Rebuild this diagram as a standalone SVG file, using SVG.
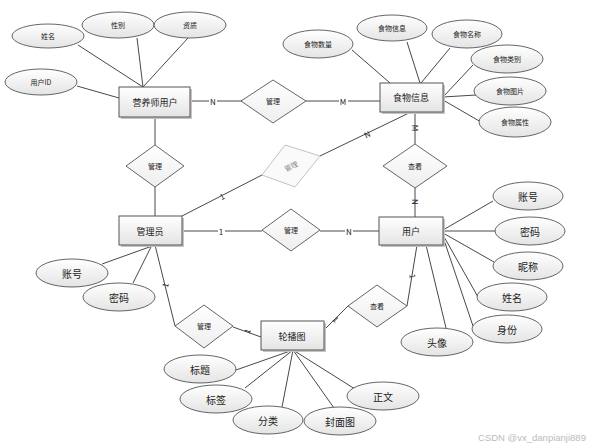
<svg xmlns="http://www.w3.org/2000/svg" width="600" height="446" viewBox="0 0 600 446">
<defs>
<linearGradient id="g" x1="0" y1="0" x2="0" y2="1"><stop offset="0" stop-color="#ffffff"/><stop offset="1" stop-color="#e4e4e4"/></linearGradient>
<linearGradient id="gg" x1="0" y1="0" x2="0" y2="1"><stop offset="0" stop-color="#ffffff"/><stop offset="1" stop-color="#eeeeee"/></linearGradient>
</defs>
<style>
text{font-family:"Noto Sans CJK SC","Liberation Sans",sans-serif;text-anchor:middle;dominant-baseline:central;fill:#222}
.e{fill:url(#g);stroke:#555;stroke-width:0.9}
.r{fill:url(#g);stroke:#555;stroke-width:1}
.sh{fill:#c4c4c4}
.d{fill:url(#gg);stroke:#555;stroke-width:0.9}
.s{font-size:7px}
.m{font-size:9px}
.b{font-size:10px}
.l{font-size:8px}
.c line,.c polyline{stroke:#333;stroke-width:0.9;fill:none}
</style>
<rect width="600" height="446" fill="#fff"/>
<g class="c" id="connectors">
<line x1="78" y1="45" x2="143" y2="87"/>
<line x1="137" y1="38" x2="143" y2="87"/>
<line x1="188" y1="38" x2="143" y2="87"/>
<line x1="77" y1="86" x2="119" y2="98"/>
<line x1="190" y1="101" x2="242" y2="101"/>
<line x1="306" y1="101" x2="380" y2="101"/>
<line x1="352" y1="50" x2="390" y2="83"/>
<line x1="407" y1="42" x2="420" y2="83"/>
<line x1="450" y1="48" x2="421" y2="83"/>
<line x1="443" y1="97" x2="473" y2="65"/>
<line x1="443" y1="97" x2="476" y2="95"/>
<line x1="443" y1="100" x2="481" y2="122"/>
<line x1="155" y1="117" x2="155" y2="145"/>
<line x1="155" y1="187" x2="155" y2="216"/>
<line x1="182" y1="216" x2="262" y2="175"/>
<line x1="320" y1="156" x2="411" y2="112"/>
<line x1="415" y1="112" x2="415" y2="144"/>
<line x1="415" y1="188" x2="415" y2="217"/>
<line x1="182" y1="231" x2="262" y2="231"/>
<line x1="320" y1="231" x2="379" y2="231"/>
<line x1="443" y1="230" x2="493" y2="201"/>
<line x1="443" y1="231" x2="495" y2="231"/>
<line x1="443" y1="233" x2="494" y2="262"/>
<line x1="443" y1="235" x2="478" y2="297"/>
<line x1="443" y1="237" x2="473" y2="326"/>
<line x1="426" y1="245" x2="446" y2="328"/>
<line x1="417" y1="245" x2="407" y2="306"/>
<line x1="348" y1="306" x2="323" y2="331"/>
<line x1="102" y1="264" x2="155" y2="245"/>
<line x1="133" y1="283" x2="152" y2="245"/>
<line x1="155" y1="245" x2="175" y2="326"/>
<line x1="233" y1="327" x2="261" y2="337"/>
<line x1="236" y1="370" x2="293" y2="350"/>
<line x1="245" y1="388" x2="293" y2="350"/>
<line x1="282" y1="407" x2="293" y2="350"/>
<line x1="334" y1="408" x2="293" y2="350"/>
<line x1="355" y1="389" x2="293" y2="350"/>
</g>
<g id="labels">
<rect x="209" y="96" width="8" height="10" fill="#fff"/><text x="213" y="101" class="l">N</text>
<rect x="339" y="96" width="9" height="10" fill="#fff"/><text x="343" y="101" class="l">M</text>
<text x="222" y="196" class="l" transform="rotate(-27 222 196)">1</text>
<text x="367" y="134" class="l" transform="rotate(-26 367 134)">N</text>
<text x="415" y="128" class="l" transform="rotate(90 415 128)">M</text>
<text x="415" y="202" class="l" transform="rotate(90 415 202)">N</text>
<rect x="218" y="226" width="7" height="10" fill="#fff"/><text x="221" y="231" class="l">1</text>
<rect x="345" y="226" width="8" height="10" fill="#fff"/><text x="349" y="231" class="l">N</text>
<text x="413" y="276" class="l" transform="rotate(80 413 276)">1</text>
<text x="336" y="319" class="l" transform="rotate(45 336 319)">1</text>
<text x="165" y="285" class="l" transform="rotate(-76 165 285)">1</text>
<text x="247" y="331" class="l" transform="rotate(-70 247 331)">1</text>
</g>
<g id="n1"><rect x="121" y="89" width="71" height="30" class="sh"/><rect x="119" y="87" width="71" height="30" class="r"/><text x="155" y="102" class="m">营养师用户</text></g>
<g id="n2"><rect x="382" y="85" width="63" height="29" class="sh"/><rect x="380" y="83" width="63" height="29" class="r"/><text x="411" y="97" class="m">食物信息</text></g>
<g id="n3"><rect x="121" y="218" width="63" height="29" class="sh"/><rect x="119" y="216" width="63" height="29" class="r"/><text x="150" y="231" class="m">管理员</text></g>
<g id="n4"><rect x="381" y="219" width="64" height="28" class="sh"/><rect x="379" y="217" width="64" height="28" class="r"/><text x="411" y="231" class="m">用户</text></g>
<g id="n5"><rect x="263" y="323" width="63" height="29" class="sh"/><rect x="261" y="321" width="63" height="29" class="r"/><text x="292" y="336" class="m">轮播图</text></g>
<g id="a1"><ellipse cx="48" cy="36" rx="36" ry="12" class="e"/><text x="48" y="36" class="s">姓名</text></g>
<g id="a2"><ellipse cx="118" cy="25" rx="36" ry="13" class="e"/><text x="118" y="25" class="s">性别</text></g>
<g id="a3"><ellipse cx="190" cy="25" rx="36" ry="13" class="e"/><text x="190" y="25" class="s">资质</text></g>
<g id="a4"><ellipse cx="41" cy="82" rx="36" ry="13" class="e"/><text x="41" y="82" class="s">用户ID</text></g>
<g id="a5"><ellipse cx="318" cy="44" rx="35" ry="14" class="e"/><text x="318" y="44" class="s">食物数量</text></g>
<g id="a6"><ellipse cx="392" cy="28" rx="35" ry="13" class="e"/><text x="392" y="28" class="s">食物信息</text></g>
<g id="a7"><ellipse cx="467" cy="34" rx="35" ry="14" class="e"/><text x="467" y="34" class="s">食物名称</text></g>
<g id="a8"><ellipse cx="507" cy="59" rx="36" ry="14" class="e"/><text x="507" y="59" class="s">食物类别</text></g>
<g id="a9"><ellipse cx="510" cy="91" rx="36" ry="14" class="e"/><text x="510" y="91" class="s">食物图片</text></g>
<g id="a10"><ellipse cx="515" cy="122" rx="36" ry="15" class="e"/><text x="515" y="122" class="s">食物属性</text></g>
<g id="a11"><ellipse cx="528" cy="196" rx="35" ry="14" class="e"/><text x="528" y="196" class="b">账号</text></g>
<g id="a12"><ellipse cx="530" cy="231" rx="35" ry="14" class="e"/><text x="530" y="231" class="b">密码</text></g>
<g id="a13"><ellipse cx="528" cy="266" rx="35" ry="14" class="e"/><text x="528" y="266" class="b">昵称</text></g>
<g id="a14"><ellipse cx="512" cy="297" rx="35" ry="14" class="e"/><text x="512" y="297" class="b">姓名</text></g>
<g id="a15"><ellipse cx="507" cy="329" rx="35" ry="14" class="e"/><text x="507" y="329" class="b">身份</text></g>
<g id="a16"><ellipse cx="437" cy="342" rx="36" ry="14" class="e"/><text x="437" y="342" class="b">头像</text></g>
<g id="a17"><ellipse cx="72" cy="273" rx="36" ry="14" class="e"/><text x="72" y="273" class="b">账号</text></g>
<g id="a18"><ellipse cx="119" cy="297" rx="36" ry="14" class="e"/><text x="119" y="297" class="b">密码</text></g>
<g id="a19"><ellipse cx="200" cy="369" rx="36" ry="14" class="e"/><text x="200" y="369" class="b">标题</text></g>
<g id="a20"><ellipse cx="216" cy="399" rx="36" ry="14" class="e"/><text x="216" y="399" class="b">标签</text></g>
<g id="a21"><ellipse cx="268" cy="420" rx="35" ry="14" class="e"/><text x="268" y="420" class="b">分类</text></g>
<g id="a22"><ellipse cx="340" cy="421" rx="36" ry="14" class="e"/><text x="340" y="421" class="b">封面图</text></g>
<g id="a23"><ellipse cx="383" cy="396" rx="36" ry="14" class="e"/><text x="383" y="396" class="b">正文</text></g>
<g id="d1"><polygon points="241,101 273,80 306,101 273,123" class="d"/><text x="273" y="101" class="s">管理</text></g>
<g id="d2"><polygon points="126,166 155,145 184,166 155,187" class="d"/><text x="155" y="166" class="s">管理</text></g>
<g id="d3"><polygon points="262,175 285,145 320,156 295,187" fill="#fafafa" stroke="#bbb" stroke-width="0.9"/><text x="291" y="166" class="s" style="fill:#888" transform="rotate(-25 291 166)">管理</text></g>
<g id="d4"><polygon points="262,230 291,209 320,230 291,251" class="d"/><text x="291" y="230" class="s">管理</text></g>
<g id="d5"><polygon points="383,166 415,144 447,166 415,188" class="d"/><text x="415" y="166" class="s">查看</text></g>
<g id="d6"><polygon points="348,306 377,285 407,306 377,327" class="d"/><text x="377" y="306" class="s">查看</text></g>
<g id="d7"><polygon points="175,326 204,305 233,326 204,348" class="d"/><text x="204" y="326" class="s">管理</text></g>
<text x="532" y="437" style="font-family:'Liberation Sans',sans-serif;font-size:9.5px;fill:#bbb">CSDN @vx_danpianji889</text>
</svg>
